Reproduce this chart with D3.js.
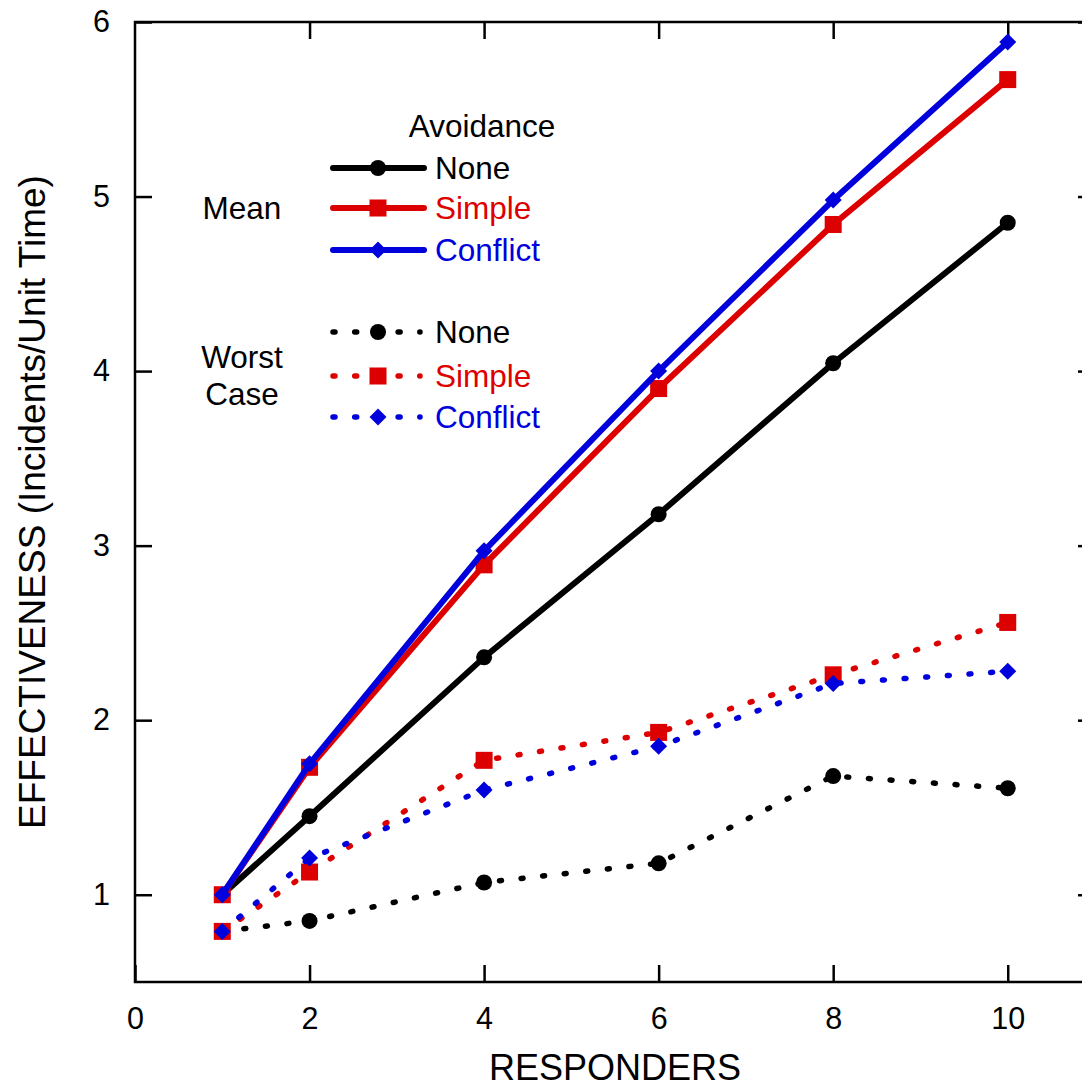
<!DOCTYPE html>
<html>
<head>
<meta charset="utf-8">
<script src="https://cdn.jsdelivr.net/npm/d3@7"></script>
<style>
  body { margin: 0; background: #fff; }
  text { font-family: "Liberation Sans", Arial, Helvetica, sans-serif; fill: #000; }
</style>
</head>
<body>
<div id="chart"></div>
<script>
// data
const responders = [1, 2, 4, 6, 8, 10];
const meanNone = [1.0, 1.45, 2.36, 3.18, 4.045, 4.85];
const meanSimple = [1.0, 1.73, 2.89, 3.90, 4.84, 5.67];
const meanConflict = [1.0, 1.75, 2.97, 4.0, 4.98, 5.885];
const worstNone = [0.79, 0.85, 1.07, 1.18, 1.68, 1.61];
const worstSimple = [0.79, 1.13, 1.77, 1.93, 2.26, 2.56];
const worstConflict = [0.79, 1.21, 1.60, 1.85, 2.21, 2.28];

const xTicks = [0, 2, 4, 6, 8, 10];
const yTicks = [1, 2, 3, 4, 5, 6];
const avoidance = ["None", "Simple", "Conflict"];

const width = 1082, height = 1088;
const plotL = 135, plotR = 1095, plotT = 22, plotB = 982;

const colors = { None: "#000000", Simple: "#dd0000", Conflict: "#0000dd" };
const shapes = { None: "circle", Simple: "square", Conflict: "diamond" };

const svg = d3.select("#chart").append("svg")
    .attr("width", width)
    .attr("height", height);

const x = d3.scaleLinear().domain([0, 11]).range([plotL, plotR]);
const y = d3.scaleLinear().domain([0.5, 6]).range([plotB, plotT]);

// frame
svg.append("rect")
    .attr("x", plotL).attr("y", plotT)
    .attr("width", plotR - plotL).attr("height", plotB - plotT)
    .attr("fill", "none").attr("stroke", "#000").attr("stroke-width", 2.5);

// axes with inward ticks
function styleAxis(g) {
    g.select(".domain").remove();
    g.selectAll(".tick line").attr("stroke", "#000").attr("stroke-width", 2.5);
    g.selectAll(".tick text").attr("font-size", 30.5).attr("font-family", null);
}

svg.append("g").attr("transform", `translate(0,${plotB})`)
    .call(d3.axisBottom(x).tickValues(xTicks).tickFormat(d3.format("d"))
        .tickSize(-17).tickPadding(25).tickSizeOuter(0))
    .call(styleAxis);
svg.append("g").attr("transform", `translate(0,${plotT})`)
    .call(d3.axisTop(x).tickValues(xTicks.filter(d => d > 0)).tickSize(-17).tickFormat("").tickSizeOuter(0))
    .call(styleAxis);
svg.append("g").attr("transform", `translate(${plotL},0)`)
    .call(d3.axisLeft(y).tickValues(yTicks).tickFormat(d3.format("d"))
        .tickSize(-17).tickPadding(25).tickSizeOuter(0))
    .call(styleAxis);
svg.append("g").attr("transform", `translate(${plotR},0)`)
    .call(d3.axisRight(y).tickValues(yTicks).tickSize(-17).tickFormat("").tickSizeOuter(0))
    .call(styleAxis);

// axis titles
svg.append("text")
    .attr("x", (plotL + plotR) / 2).attr("y", 1080)
    .attr("text-anchor", "middle").attr("font-size", 36)
    .text("RESPONDERS");

svg.append("text")
    .attr("transform", `translate(45,${(plotT + plotB) / 2}) rotate(-90)`)
    .attr("text-anchor", "middle").attr("font-size", 37)
    .text("EFFECTIVENESS (Incidents/Unit Time)");

// marker helper
function marker(g, shape, color, cx, cy) {
    if (shape === "circle") {
        g.append("circle").attr("cx", cx).attr("cy", cy).attr("r", 8).attr("fill", color);
    } else if (shape === "square") {
        g.append("rect").attr("x", cx - 8.5).attr("y", cy - 8.5)
            .attr("width", 17).attr("height", 17).attr("fill", color);
    } else {
        g.append("path")
            .attr("d", `M${cx},${cy - 8.5}L${cx + 8.5},${cy}L${cx},${cy + 8.5}L${cx - 8.5},${cy}Z`)
            .attr("fill", color);
    }
}

const line = d3.line().x(d => x(d[0])).y(d => y(d[1]));

const series = [
    { kind: "worst", name: "None", values: worstNone },
    { kind: "worst", name: "Simple", values: worstSimple },
    { kind: "worst", name: "Conflict", values: worstConflict },
    { kind: "mean", name: "None", values: meanNone },
    { kind: "mean", name: "Simple", values: meanSimple },
    { kind: "mean", name: "Conflict", values: meanConflict }
];

function applyStroke(sel, kind, color) {
    sel.attr("fill", "none").attr("stroke", color).attr("stroke-linecap", "round");
    if (kind === "mean") {
        sel.attr("stroke-width", 6).attr("stroke-linejoin", "round");
    } else {
        sel.attr("stroke-width", 5.5).attr("stroke-dasharray", "2,19.7");
    }
}

const plot = svg.append("g");
series.forEach(s => {
    const g = plot.append("g");
    const pts = responders.map((r, i) => [r, s.values[i]]);
    g.append("path").attr("d", line(pts)).call(applyStroke, s.kind, colors[s.name]);
    pts.forEach(p => marker(g, shapes[s.name], colors[s.name], x(p[0]), y(p[1])));
});

// legend
const legend = svg.append("g");
legend.append("text").attr("x", 482).attr("y", 137)
    .attr("text-anchor", "middle").attr("font-size", 31.5).text("Avoidance");

const groups = [
    { kind: "mean", rows: [168, 208, 250], labels: [{ t: "Mean", y: 219 }] },
    { kind: "worst", rows: [332, 376, 417], labels: [{ t: "Worst", y: 368 }, { t: "Case", y: 405 }] }
];

groups.forEach(gr => {
    gr.labels.forEach(l => {
        legend.append("text").attr("x", 242).attr("y", l.y)
            .attr("text-anchor", "middle").attr("font-size", 31.5).text(l.t);
    });
    avoidance.forEach((name, i) => {
        const ly = gr.rows[i];
        legend.append("path").attr("d", `M333,${ly}L${gr.kind === "mean" ? 424 : 420},${ly}`)
            .call(applyStroke, gr.kind, colors[name]);
        marker(legend, shapes[name], colors[name], 378, ly);
        legend.append("text").attr("x", 435).attr("y", ly + 11)
            .attr("font-size", 31.5)
            .style("fill", colors[name]).text(name);
    });
});
</script>
</body>
</html>
